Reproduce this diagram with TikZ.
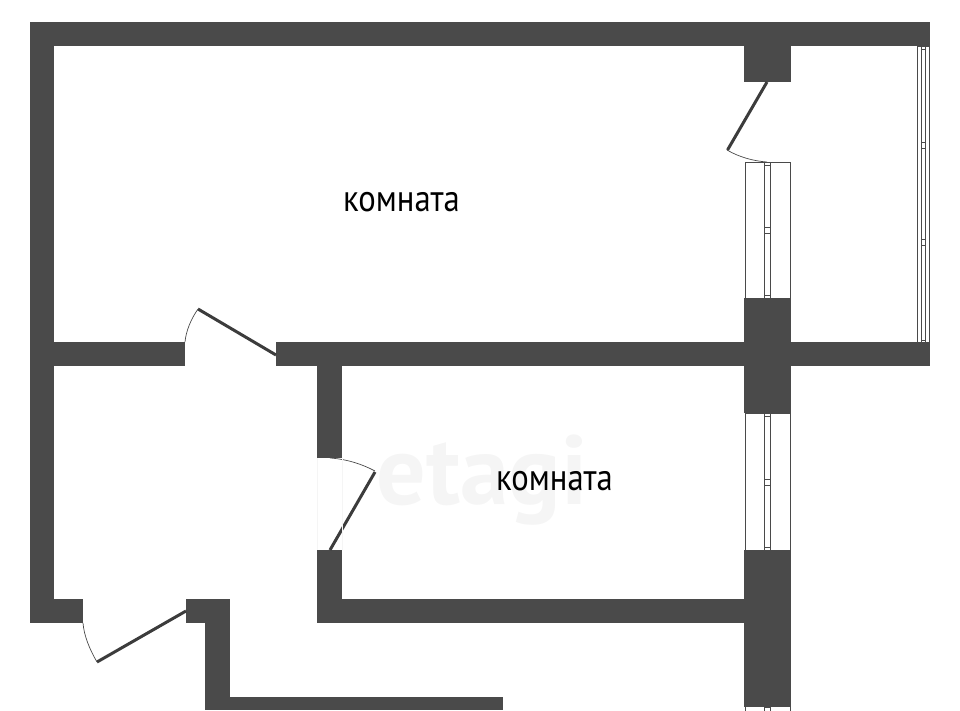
\documentclass[tikz,border=0pt]{standalone}
\usepackage{fontspec}
\setmainfont{PT Sans}
\newfontfamily\roomfont[FakeStretch=0.87]{PT Sans}
\definecolor{wallgray}{HTML}{4A4A4A}
\definecolor{leafgray}{HTML}{3C3C3C}
\definecolor{markgray}{HTML}{F5F5F5}
\tikzset{
  wall/.style={fill=wallgray,draw=none},
  leaf/.style={draw=leafgray,line width=3pt},
  swing/.style={draw=wallgray,line width=0.7pt},
  pane/.style={draw=wallgray,line width=1pt,fill=white},
  label/.style={text=black,font=\roomfont\fontsize{37.5}{38}\selectfont,inner sep=0pt}
}
\begin{document}
\begin{tikzpicture}[x=1pt,y=-1pt]
  \useasboundingbox (0,0) rectangle (960,710);
  % watermark
  \node[text=markgray,font=\fontsize{98}{98}\selectfont\bfseries,inner sep=0pt] (mark) at (482,480) {etagi};
  % outer walls
  \fill[wall] (30,22) rectangle (930,46);
  \fill[wall] (30,22) rectangle (54,623);
  \fill[wall] (30,599) rectangle (83,623);
  % middle wall
  \fill[wall] (30,342) rectangle (185,366);
  \fill[wall] (276,342) rectangle (930,366);
  % inner walls
  \fill[wall] (317,342) rectangle (342,458);
  \fill[wall] (317,550) rectangle (342,623);
  \fill[wall] (317,599) rectangle (744,623);
  % entrance and lower wall
  \fill[wall] (186,599) rectangle (230,623);
  \fill[wall] (205,599) rectangle (230,710);
  \fill[wall] (205,697) rectangle (503,710);
  % piers
  \fill[wall] (744,46) rectangle (791,82);
  \fill[wall] (744,298) rectangle (791,413);
  \fill[wall] (744,550) rectangle (791,707);
  % windows
  \foreach \ya/\yb/\ym in {162/298/230,413/550/482}{
    \draw[pane] (745,\ya) rectangle (790,\yb);
    \draw[pane] (764.5,\ya) rectangle (770,\yb);
    \draw[wallgray,line width=0.7pt] (764.5,\ya+3) -- (770,\ya+3);
    \draw[wallgray,line width=0.7pt] (764.5,\yb-3) -- (770,\yb-3);
    \draw[wallgray,line width=0.7pt] (764.5,\ym-3) -- (770,\ym-3);
    \draw[wallgray,line width=0.7pt] (764.5,\ym+3) -- (770,\ym+3);
  }
  % window cut by the bottom edge
  \draw[pane] (745,707) -- (745,711) (790,707) -- (790,711);
  \draw[pane] (764.5,707) rectangle (770,711);
  % balcony window
  \draw[pane] (917.5,46) rectangle (929.5,342);
  \draw[pane] (921,46) rectangle (925.5,342);
  \foreach \ym in {145,242}{
    \draw[wallgray,line width=0.7pt] (921,\ym-3) -- (925.5,\ym-3);
    \draw[wallgray,line width=0.7pt] (921,\ym+3) -- (925.5,\ym+3);
  }
  \draw[wallgray,line width=0.7pt] (921,49) -- (925.5,49) (921,340) -- (925.5,340);
  % doors
  \draw[leaf] (767,82) -- (727.5,150);
  \draw[swing] (727,150) .. controls (739,157) and (753,161) .. (767,162);
  \draw[leaf] (276,355) -- (198,309);
  \draw[swing] (198,309) .. controls (191,319) and (186,331) .. (185,342);
  \draw[leaf] (330,550) -- (375,472);
  \draw[swing] (375,471) .. controls (362,464) and (346,459) .. (330,458);
  \draw[leaf] (186,611) -- (97,662);
  \draw[swing] (97,662) .. controls (90,650) and (84,636) .. (83,623);
  % faint door opening
  \draw[markgray,line width=0.7pt] (317.5,458) -- (317.5,550) (342.5,458) -- (342.5,550);
  % rooms
  \node[label] (room1) at (401.5,202) {комната};
  \node[label] (room2) at (554.5,481) {комната};
\end{tikzpicture}
\end{document}
